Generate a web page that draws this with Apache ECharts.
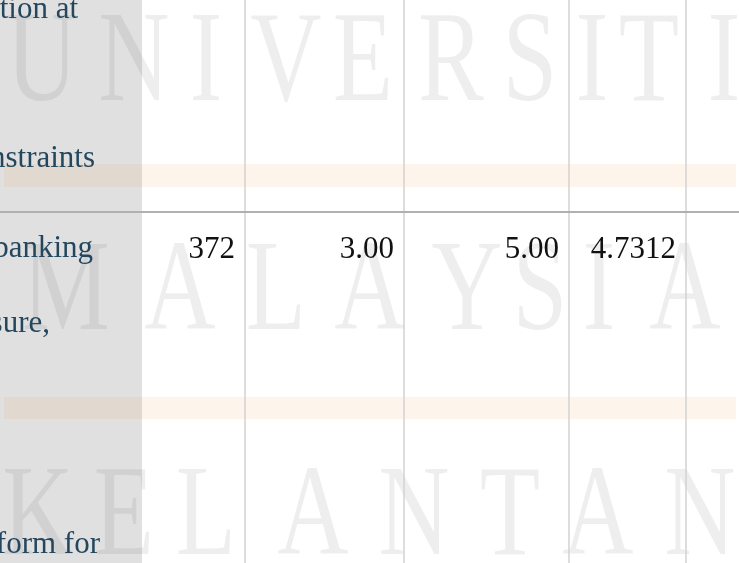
<!DOCTYPE html>
<html>
<head>
<meta charset="utf-8">
<script src="https://cdn.jsdelivr.net/npm/echarts@6/dist/echarts.min.js"></script>
<style>
html, body { margin: 0; padding: 0; background: #fff; }
#main { width: 739px; height: 563px; }
</style>
</head>
<body>
<div id="main"></div>
<script>
// visible tail of each printed line of the item wording (row 0 and row 1)
var itemLines = ['tion at', '', 'nstraints', 'banking', 'sure,', '', '', 'form for'];
var itemRow = [0, 0, 0, 1, 1, 1, 1, 1];

// descriptive statistics of the visible row
var nValues = [372];
var minValues = [3.00];
var maxValues = [5.00];
var meanValues = [4.7312];

// watermark
var wmWords = ['UNIVERSITI', 'MALAYSIA', 'KELANTAN'];

// ---- layout (pixels) ----
var W = 739, H = 563;
var colEdges = [0, 142, 245, 404, 569, 686, 739];
var lineBase = [19.5, 94, 168.5, 258, 333, 407.5, 481.5, 554.5];
var lineEnd = [78, 0, 95, 93, 50, 0, 0, 100];
var rowBase = [19.5, 259];
var ruleY = 212;
var bands = [[164, 187], [397, 419]];
var wmCenters = [
    [42, 134, 206, 286, 363, 451, 530, 592, 649, 724],
    [66, 180, 276, 370, 467, 540, 599, 685],
    [38, 124, 206, 313, 414, 510, 598, 700]
];
var wmY = [66, 295, 520];

var FS = 31;
var serif = '"Liberation Serif", "Times New Roman", serif';

var cellData = [];
var decimals = [0, 2, 2, 4];
[nValues, minValues, maxValues, meanValues].forEach(function (arr, c) {
    arr.forEach(function (v, r) {
        cellData.push([c + 1, r + 1, v, decimals[c]]);
    });
});

var graphics = [];
graphics.push({
    type: 'rect', z: 0,
    shape: { x: colEdges[0], y: 0, width: colEdges[1] - colEdges[0], height: H },
    style: { fill: '#e0e0e0' }
});
bands.forEach(function (b) {
    graphics.push({
        type: 'rect', z: 1,
        shape: { x: 4, y: b[0], width: 732, height: b[1] - b[0] },
        style: { fill: 'rgba(235,145,65,0.1)' }
    });
});
wmWords.forEach(function (word, r) {
    word.split('').forEach(function (ch, k) {
        graphics.push({
            type: 'text', z: 1,
            x: wmCenters[r][k], y: wmY[r], scaleX: 0.76,
            style: {
                text: ch, font: '130px ' + serif, fill: 'rgba(0,0,0,0.065)',
                align: 'center', verticalAlign: 'middle'
            }
        });
    });
});
for (var i = 2; i < colEdges.length - 1; i++) {
    graphics.push({
        type: 'line', z: 2,
        shape: { x1: colEdges[i], y1: 0, x2: colEdges[i], y2: H },
        style: { stroke: '#d2d2d2', lineWidth: 1.5 }
    });
}
graphics.push({
    type: 'line', z: 2,
    shape: { x1: 0, y1: ruleY, x2: W, y2: ruleY },
    style: { stroke: '#b0b0b0', lineWidth: 2 }
});

var myChart = echarts.init(document.getElementById('main'));
myChart.setOption({
    backgroundColor: '#fff',
    animation: false,
    grid: { left: 0, right: 0, top: 0, bottom: 0 },
    xAxis: { type: 'value', min: 0, max: W, show: false },
    yAxis: { type: 'value', min: 0, max: H, inverse: true, show: false },
    graphic: graphics,
    series: [
        {
            type: 'custom',
            name: 'item',
            z: 5,
            data: itemLines.map(function (t, i) { return [i, itemRow[i]]; }),
            renderItem: function (params, api) {
                var i = api.value(0);
                var p = api.coord([lineEnd[i], lineBase[i] - 0.305 * FS]);
                return {
                    type: 'text',
                    x: p[0], y: p[1],
                    style: {
                        text: itemLines[i], font: FS + 'px ' + serif, fill: '#24475e',
                        align: 'right', verticalAlign: 'middle'
                    }
                };
            }
        },
        {
            type: 'custom',
            name: 'stats',
            z: 5,
            data: cellData,
            renderItem: function (params, api) {
                var c = api.value(0), r = api.value(1);
                var v = api.value(2), d = api.value(3);
                var p = api.coord([colEdges[c + 1] - 10, rowBase[r] - 0.305 * FS]);
                return {
                    type: 'text',
                    x: p[0], y: p[1],
                    style: {
                        text: v.toFixed(d), font: FS + 'px ' + serif, fill: '#111',
                        align: 'right', verticalAlign: 'middle'
                    }
                };
            }
        }
    ]
});
</script>
</body>
</html>
